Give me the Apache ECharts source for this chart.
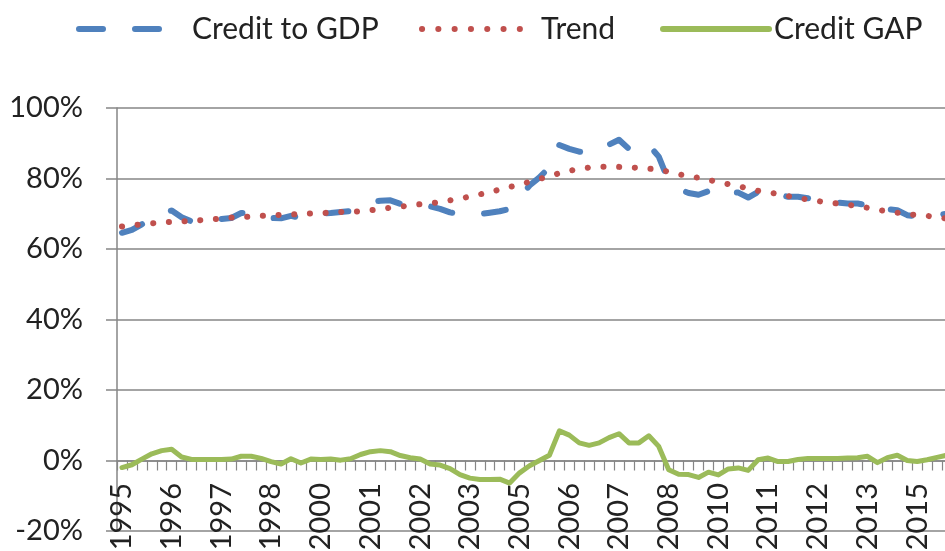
<!DOCTYPE html>
<html>
<head>
<meta charset="utf-8">
<script src="https://cdn.jsdelivr.net/npm/echarts@6/dist/echarts.min.js"></script>
<style>
  html, body { margin: 0; padding: 0; background: #fff; }
  #chart { width: 945px; height: 551px; }
</style>
</head>
<body>
<div id="chart"></div>
<script>
// quarters 1995Q1 .. 2015Q4
const years = [1995, 1996, 1997, 1998, 1999, 2000, 2001, 2002, 2003, 2004, 2005,
  2006, 2007, 2008, 2009, 2010, 2011, 2012, 2013, 2014, 2015];
const categories = [];
years.forEach(y => { for (let q = 1; q <= 4; q++) categories.push(y + 'Q' + q); });

// values in %
const creditToGDP = [
  64.6, 65.4, 67.0, 68.6, 70.2, 70.9, 69.0, 67.8, 68.3, 68.6,
  68.5, 68.8, 70.2, 70.4, 69.8, 68.8, 68.7, 69.4, 68.8, 69.8,
  70.1, 70.2, 70.5, 70.8, 72.3, 73.3, 73.7, 73.8, 72.8, 72.6,
  72.9, 72.1, 71.4, 70.4, 69.9, 69.7, 69.9, 70.3, 70.7, 71.4,
  74.6, 78.0, 80.3, 83.2, 89.5, 88.4, 87.6, 87.2, 88.0, 89.6,
  91.0, 88.4, 87.7, 89.5, 86.2, 79.2, 77.0, 75.9, 75.4, 76.4,
  75.0, 76.3, 76.0, 74.6, 76.2, 77.0, 75.5, 74.8, 74.8, 74.4,
  73.9, 73.4, 73.2, 72.9, 72.9, 72.4, 70.4, 71.3, 71.0, 69.6,
  69.2, 69.1, 69.6, 70.0
];
const trend = [
  66.4, 66.7, 67.0, 67.3, 67.5, 67.7, 67.8, 68.0, 68.2, 68.4,
  68.6, 68.9, 69.0, 69.2, 69.4, 69.6, 69.7, 69.8, 69.9, 70.1,
  70.2, 70.3, 70.5, 70.6, 70.7, 71.0, 71.3, 71.7, 72.0, 72.4,
  72.7, 73.0, 73.3, 73.8, 74.3, 74.9, 75.5, 76.1, 76.9, 77.6,
  78.2, 79.1, 79.9, 80.6, 81.5, 82.2, 82.7, 83.1, 83.3, 83.3,
  83.3, 83.2, 83.0, 82.8, 82.5, 81.9, 81.2, 80.7, 80.2, 79.6,
  79.0, 78.4, 77.8, 77.2, 76.5, 76.1, 75.6, 75.0, 74.5, 74.0,
  73.6, 73.2, 72.9, 72.6, 72.1, 71.7, 71.1, 70.7, 70.3, 69.8,
  69.7, 69.4, 69.0, 68.6
];
const creditGap = [
  -2.0, -1.2, 0.4, 1.9, 2.8, 3.2, 1.0, 0.3, 0.3, 0.3,
  0.3, 0.4, 1.2, 1.2, 0.6, -0.3, -1.0, 0.5, -0.7, 0.4,
  0.3, 0.4, 0.1, 0.5, 1.7, 2.5, 2.8, 2.5, 1.4, 0.8,
  0.4, -1.0, -1.3, -2.3, -4.0, -5.0, -5.4, -5.4, -5.3, -6.4,
  -3.5, -1.5, 0.0, 1.5, 8.4, 7.2, 5.0, 4.3, 5.0, 6.5,
  7.6, 5.0, 5.0, 7.0, 4.0, -2.6, -3.9, -4.0, -4.8, -3.3,
  -4.1, -2.4, -2.1, -2.8, 0.2, 0.7, -0.3, -0.3, 0.3, 0.6,
  0.6, 0.6, 0.6, 0.7, 0.8, 1.2, -0.6, 0.8, 1.5, 0.0,
  -0.3, 0.2, 0.9, 1.5
];

const FONT = 'Lato';
const GREY = '#868686';
const BLUE = '#4F81BD', RED = '#C0504D', GREEN = '#9BBB59';

const chart = echarts.init(document.getElementById('chart'));

const legendText = { fontFamily: FONT, fontSize: 30, color: '#222' };

const option = {
  animation: false,
  backgroundColor: '#fff',
  legend: [
    {
      data: ['Credit to GDP'], left: 71, top: 9,
      itemWidth: 84, itemHeight: 14,
      itemStyle: { opacity: 0 },
      lineStyle: { width: 6, type: [24, 32], cap: 'round' },
      textStyle: Object.assign({ padding: [0, 0, 0, 24] }, legendText)
    },
    {
      data: ['Trend'], left: 414, top: 9,
      itemWidth: 100, itemHeight: 14,
      itemStyle: { opacity: 0 },
      lineStyle: { width: 6, type: [0.1, 16.2], cap: 'round' },
      textStyle: Object.assign({ padding: [0, 0, 0, 14] }, legendText)
    },
    {
      data: ['Credit GAP'], left: 655, top: 9,
      itemWidth: 106, itemHeight: 14,
      itemStyle: { opacity: 0 },
      lineStyle: { width: 6, type: 'solid', cap: 'round' },
      textStyle: Object.assign({ padding: [0, 0, 0, 0] }, legendText)
    }
  ],
  grid: [
    {
      left: 117, right: -7, top: 108, bottom: 20,
      containLabel: false,
      outerBoundsMode: 'none'
    },
    {
      // empty helper grid whose bottom edge carries the year labels
      left: 117, right: -7, top: 400, height: 81,
      containLabel: false,
      outerBoundsMode: 'none'
    }
  ],
  xAxis: [
    {
      // the axis line with quarterly ticks, sitting on 0%
      type: 'category',
      gridIndex: 0,
      data: categories,
      boundaryGap: true,
      axisLine: { onZero: true, lineStyle: { color: GREY, width: 1.5 } },
      axisTick: { show: true, interval: 0, length: 10, lineStyle: { color: GREY, width: 1.2 } },
      axisLabel: { show: false },
      splitLine: { show: false }
    },
    {
      // year labels
      type: 'category',
      gridIndex: 1,
      data: categories,
      boundaryGap: true,
      position: 'bottom',
      axisLine: { show: false, onZero: false },
      axisTick: { show: false },
      axisLabel: {
        interval: 4,
        rotate: 90,
        margin: 2,
        hideOverlap: false,
        fontFamily: FONT,
        fontSize: 29,
        color: '#222',
        formatter: v => v.slice(0, 4)
      },
      splitLine: { show: false }
    }
  ],
  yAxis: [
    {
      type: 'value',
      gridIndex: 0,
      min: -20,
      max: 100,
      interval: 20,
      axisLine: { show: true, lineStyle: { color: GREY, width: 1.5 } },
      axisTick: { show: true, length: 11, lineStyle: { color: GREY, width: 1.5 } },
      axisLabel: {
        margin: 34,
        fontFamily: FONT,
        fontSize: 29,
        color: '#222',
        formatter: '{value}%'
      },
      splitLine: { show: true, lineStyle: { color: GREY, width: 1.5 } }
    },
    {
      type: 'value',
      gridIndex: 1,
      show: false
    }
  ],
  series: [
    {
      name: 'Credit to GDP',
      type: 'line',
      data: creditToGDP,
      symbol: 'none',
      lineStyle: { color: BLUE, width: 6, type: [22, 32], cap: 'round', join: 'round' },
      itemStyle: { color: BLUE }
    },
    {
      name: 'Trend',
      type: 'line',
      data: trend,
      symbol: 'none',
      lineStyle: { color: RED, width: 6, type: [0.1, 15.6], cap: 'round' },
      itemStyle: { color: RED }
    },
    {
      name: 'Credit GAP',
      type: 'line',
      data: creditGap,
      symbol: 'none',
      lineStyle: { color: GREEN, width: 5, cap: 'round', join: 'round' },
      itemStyle: { color: GREEN }
    }
  ]
};

chart.setOption(option);
</script>
</body>
</html>
